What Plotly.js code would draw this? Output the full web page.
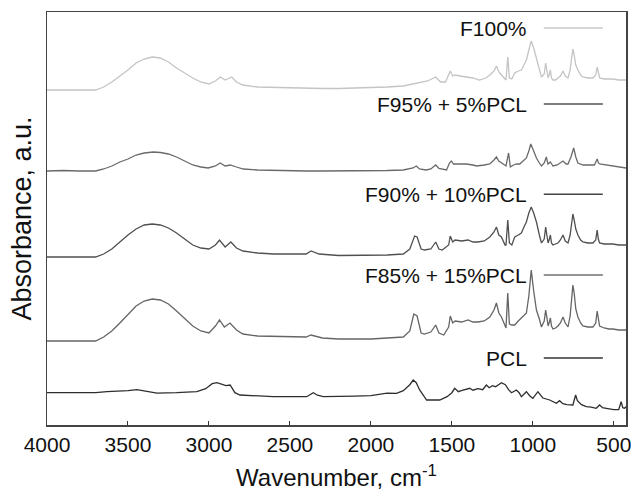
<!DOCTYPE html>
<html>
<head>
<meta charset="utf-8">
<script src="https://cdn.plot.ly/plotly-3.0.1.min.js"></script>
<style>html,body{margin:0;padding:0;background:#fff;}#chart{width:631px;height:491px;}</style>
</head>
<body>
<div id="chart"></div>
<script>
// Series names (top to bottom)
var seriesNames = ["F100%", "F95% + 5%PCL", "F90% + 10%PCL", "F85% + 15%PCL", "PCL"];

// Wavenumber (cm-1) and absorbance (a.u., relative to each curve's own baseline)
var wnF100 = [4000,3850,3700,3650,3600,3550,3500,3450,3400,3350,3300,3250,3200,3150,3100,3050,3000,2960,2930,2900,2860,2830,2790,2700,2600,2500,2400,2300,2200,2100,2000,1900,1800,1700,1650,1600,1570,1540,1510,1495,1480,1450,1410,1370,1330,1290,1266,1240,1225,1210,1194,1175,1166,1155,1145,1130,1112,1090,1071,1055,1040,1025,1010,995,978,960,947,930,921,912,906,898,892,885,876,860,845,830,814,800,783,770,760,753,745,735,722,705,691,660,629,612,603,596,588,560,530,506,470,425];
var absF100 = [0,0,0,3,8,14,20,27,31,33,32,28,22,17,12,8,6,9,13,10,13,8,5,3,2.5,2,1.5,1.5,1.5,2,2,3,4,7,9,13,8,8,19,14,15,14,13,12,10,12,15,19,24,18,15,11,10,33,12,11,17,19,20,25,30,40,49,42,32,20,13,16,27,18,12,16,20,12,10,10,12,14,19,14,12,20,33,41,35,25,20,15,13,12,12,15,23,16,12,11,11,11,10,10];

var wnF95 = [4000,3900,3800,3700,3650,3600,3550,3500,3450,3400,3344,3300,3250,3200,3150,3100,3050,3005,2960,2931,2900,2869,2830,2788,2700,2600,2500,2400,2300,2200,2100,2000,1900,1800,1740,1720,1700,1660,1630,1600,1580,1533,1515,1503,1490,1480,1440,1410,1370,1348,1300,1266,1240,1225,1210,1194,1172,1166,1150,1139,1120,1100,1081,1060,1040,1025,1013,995,978,960,947,930,917,910,906,892,876,850,830,814,795,783,765,748,735,722,690,650,620,603,595,588,550,506,470,425];
var absF95 = [0,0.5,0,0,2,5,9,12,16,18,19,18.5,17,14,10,6,4,3,5,8,5,6,4,2,1,0.5,0,0,0,0,0,0,0.5,1,3,5,2,1,2,6,2.5,1,8,10,7,7,7,7,6,5,6,7,11,14,10,8,5,5,18,4,6,7,7,10,13,20,27,20,13,8,5,8,14,9,7,9,5,6,8,10,7,7,14,23,14,8,6,6,6,12,8,7,6,5,4,3];

var wnF90 = [4000,3700,3650,3600,3550,3500,3450,3400,3350,3300,3250,3200,3150,3100,3050,3000,2960,2935,2900,2865,2830,2790,2700,2600,2500,2400,2370,2350,2320,2200,2100,2000,1900,1800,1760,1730,1715,1690,1670,1630,1600,1580,1560,1520,1510,1495,1480,1440,1400,1370,1340,1300,1266,1240,1225,1210,1194,1172,1166,1155,1145,1130,1112,1090,1071,1055,1040,1025,1010,995,978,960,947,930,921,912,906,898,892,885,876,860,845,830,814,800,783,770,760,753,745,735,722,705,691,660,629,612,603,596,588,560,530,506,470,425];
var absF90 = [0,0,3,8,15,22,28,32,33,32,29,24,18,12,9,8,12,17,10,15,9,6,4,3,3,3,6,5,3,1.5,1.5,1.5,2,3,8,21,20,8,7,8,15,8,7,12,21,15,17,16,17,15,15,16,20,25,30,22,20,12,12,37,14,12,20,22,24,30,35,44,50,44,35,22,14,18,30,20,14,18,22,14,12,13,14,17,22,16,14,22,36,43,37,28,22,17,15,14,14,17,27,18,14,13,13,13,12,12];

var wnF85 = [4000,3700,3650,3600,3550,3500,3450,3400,3350,3300,3250,3200,3150,3100,3050,3000,2960,2935,2905,2870,2830,2790,2700,2600,2500,2400,2370,2340,2300,2200,2100,2000,1900,1800,1760,1735,1715,1690,1670,1630,1600,1580,1550,1520,1510,1495,1480,1440,1400,1370,1340,1300,1266,1240,1225,1210,1194,1172,1166,1155,1145,1130,1112,1090,1071,1055,1040,1025,1010,995,978,960,947,930,921,912,906,898,892,885,876,860,845,830,814,800,783,770,760,753,745,735,722,705,691,660,629,612,603,596,588,560,530,506,470,425];
var absF85 = [0,0,4,10,18,27,35,40,42,41,37,30,22,15,10,8,15,21,14,18,11,7,5,4.5,4,4,6,5,3,2,2,2,3,4,10,27,25,8,7,9,16,8,6,14,25,18,20,19,21,19,19,20,24,31,38,28,24,14,13,48,17,16,16,20,23,25,28,45,71,50,31,22,14,20,31,22,15,19,23,15,12,13,15,18,24,18,14,25,45,56,48,32,24,18,15,14,14,18,30,20,15,13,12,12,11,11];

var wnPCL = [4000,3900,3800,3700,3630,3550,3500,3445,3400,3321,3200,3075,3020,2980,2951,2920,2895,2869,2840,2808,2700,2602,2500,2397,2356,2330,2294,2191,2100,2000,1900,1842,1800,1760,1739,1720,1700,1656,1600,1575,1530,1500,1483,1470,1460,1442,1420,1390,1370,1340,1310,1287,1270,1250,1230,1194,1170,1150,1132,1102,1085,1071,1040,1020,1000,969,950,938,896,870,855,835,815,790,753,736,725,700,670,640,609,588,570,547,500,470,455,445,434,425];
var absPCL = [0,0,0.5,0,1,1.5,2,3,1.5,-0.5,0,1,4,9,10,8,7,7.7,0,-2.3,-3.5,-4,-4,-4,0,-2.5,-4,-4,-3.5,-3,-0.5,-0.6,2,8,12.7,10,3,-7.3,-7.3,-7.3,-4,0,4.4,2,1,2,3,4.4,2.5,4,3,7.7,5,7,6,10,8,3,0,2.7,0,-4,1,-3,-5.6,1,-3,-5.3,-7.3,-9,-10.6,-8,-11,-12,-12.3,-2.3,-8,-12,-14,-14.5,-15.6,-12.3,-15,-15.6,-17,-17,-9,-15,-15.6,-14];

// Vertical stacking offsets for each curve (same order as seriesNames)
var offsets = [335, 254, 168, 84, 32.3];
var lineColors = ["#c4c4c4", "#6a6a6a", "#505050", "#656565", "#2e2e2e"];
var legendColors = ["#c8c8c8", "#555555", "#444444", "#707070", "#333333"];

var wns = [wnF100, wnF95, wnF90, wnF85, wnPCL];
var abss = [absF100, absF95, absF90, absF85, absPCL];

var traces = [];
for (var i = 0; i < wns.length; i++) {
  traces.push({
    x: wns[i],
    y: abss[i].map(function (v) { return v + offsets[i]; }),
    type: "scatter",
    mode: "lines",
    name: seriesNames[i],
    line: { color: lineColors[i], width: 1.3 },
    showlegend: false,
    hoverinfo: "skip"
  });
}

// Legend entry positions (paper y) for the text-then-line legend
var legendY = [0.961, 0.777, 0.559, 0.363, 0.162];
var annotations = [];
var shapes = [];
for (var j = 0; j < seriesNames.length; j++) {
  annotations.push({
    xref: "paper", yref: "paper", x: 0.832, y: legendY[j],
    xanchor: "right", yanchor: "middle", showarrow: false,
    text: seriesNames[j],
    font: { family: "Liberation Sans, Arial, sans-serif", size: 21, color: "#111" }
  });
  shapes.push({
    type: "line", xref: "paper", yref: "paper",
    x0: 0.858, x1: 0.960, y0: legendY[j], y1: legendY[j],
    line: { color: legendColors[j], width: 1.5 }
  });
}

var layout = {
  width: 631, height: 491,
  margin: { l: 47, r: 5, t: 12, b: 66 },
  paper_bgcolor: "#fff", plot_bgcolor: "#fff",
  font: { family: "Liberation Sans, Arial, sans-serif", size: 21, color: "#111" },
  xaxis: {
    range: [4000, 425],
    tickvals: [4000, 3500, 3000, 2500, 2000, 1500, 1000, 500],
    ticktext: ["4000", "3500", "3000", "2500", "2000", "1500", "1000", "500"],
    ticks: "inside", ticklen: 4, tickcolor: "#333", tickwidth: 1,
    ticklabeloverflow: "allow",
    showline: true, linecolor: "#444", linewidth: 1.5, mirror: true,
    showgrid: false, zeroline: false,
    tickfont: { size: 21, color: "#111" },
    title: { text: "Wavenumber, cm<sup>-1</sup>", font: { size: 24, color: "#111" }, standoff: 17 }
  },
  yaxis: {
    range: [0, 413],
    showticklabels: false, ticks: "",
    showline: true, linecolor: "#444", linewidth: 1.5, mirror: true,
    showgrid: false, zeroline: false,
    title: { text: "Absorbance, a.u.", font: { size: 27, color: "#111" }, standoff: 6 }
  },
  annotations: annotations,
  shapes: shapes,
  showlegend: false
};

Plotly.newPlot("chart", traces, layout, { displayModeBar: false, staticPlot: true });
</script>
</body>
</html>
